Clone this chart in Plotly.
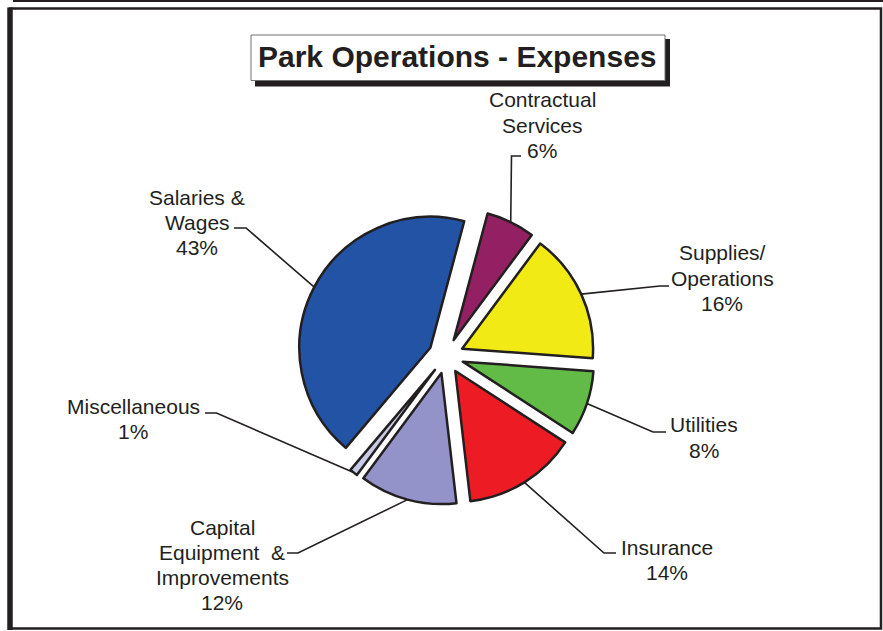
import math
import plotly.graph_objects as go

# ---- data ----
categories = ["Contractual Services", "Supplies/ Operations", "Utilities", "Insurance",
              "Capital Equipment & Improvements", "Miscellaneous", "Salaries & Wages"]
label_lines = [["Contractual", "Services"], ["Supplies/", "Operations"], ["Utilities"],
               ["Insurance"], ["Capital", "Equipment  &", "Improvements"],
               ["Miscellaneous"], ["Salaries &", "Wages"]]
shares = [6, 16, 8, 14, 12, 1, 43]
slice_colors = ["#922062", "#F2EA14", "#62BB47", "#ED1C24", "#9393C9", "#C8CBE6", "#2353A5"]

# ---- page geometry (pixels) ----
W, H = 883, 631
CX, CY = 446.0, 356.0      # pie centre
R = 131.0                  # slice radius
PULL = 0.135               # explode fraction
ROT = 15                   # first slice starts 15 deg clockwise from 12 o'clock
INK = "#231F20"

# text block anchor (centre of first line) and leader elbow / end per slice
text_pos = [(542, 100), (722, 253), (704, 425), (667, 547), (222, 527), (133, 406), (197, 198)]
elbows = [(511.5, 156), (660, 286), (653, 432), (604, 553), (298, 553), (216.5, 413), (246, 228)]
ends = [(521, 156), (669, 286), (666, 432), (616, 553), (287, 553), (205, 413), (234, 228)]
LINE_STEP = 25


def px(x):
    return x / W


def py(y):
    return 1 - y / H


half = R * (1 + PULL)
fig = go.Figure(go.Pie(
    labels=categories, values=shares, sort=False, direction="clockwise",
    rotation=ROT, pull=PULL, textinfo="none", hoverinfo="label+percent",
    marker=dict(colors=slice_colors, line=dict(color=INK, width=2.5)),
    domain=dict(x=[px(CX - half), px(CX + half)], y=[py(CY + half), py(CY - half)]),
    showlegend=False,
))

shapes = []
annotations = []

# frame
shapes.append(dict(type="line", xref="paper", yref="paper", x0=px(13), x1=px(883), y0=py(1), y1=py(1),
                   line=dict(color=INK, width=2)))
shapes.append(dict(type="rect", xref="paper", yref="paper", x0=px(10), x1=px(881), y0=py(8.5), y1=py(628.5),
                   line=dict(color=INK, width=2.5)))
shapes.append(dict(type="line", xref="paper", yref="paper", x0=px(10), x1=px(10), y0=py(7.5), y1=py(630),
                   line=dict(color=INK, width=5.5)))

# title box with drop shadow
shapes.append(dict(type="rect", xref="paper", yref="paper", x0=px(255), x1=px(670), y0=py(39), y1=py(86.5),
                   fillcolor=INK, line=dict(width=0)))
shapes.append(dict(type="rect", xref="paper", yref="paper", x0=px(251), x1=px(665), y0=py(35), y1=py(80.5),
                   fillcolor="white", line=dict(color="#707070", width=1)))
annotations.append(dict(text="<b>Park Operations - Expenses</b>", xref="paper", yref="paper",
                        x=px(458), y=py(57), showarrow=False, xanchor="center", yanchor="middle",
                        font=dict(family="Liberation Sans, Arial", size=30, color=INK)))

# slice labels with leader lines from each slice's outer arc midpoint
total = sum(shares)
cum = 0
for i, v in enumerate(shares):
    mid = math.radians(ROT + 360 * (cum + v / 2) / total)
    cum += v
    sx = CX + half * math.sin(mid)
    sy = CY - half * math.cos(mid)
    ex, ey = elbows[i]
    tx, ty = ends[i]
    shapes.append(dict(type="path", xref="paper", yref="paper",
                       path=f"M {px(sx)},{py(sy)} L {px(ex)},{py(ey)} L {px(tx)},{py(ty)}",
                       line=dict(color=INK, width=1.6)))
    lines = label_lines[i] + [f"{v}%"]
    lx, ly = text_pos[i]
    for k, t in enumerate(lines):
        annotations.append(dict(text=t, xref="paper", yref="paper", x=px(lx), y=py(ly + k * LINE_STEP),
                                showarrow=False, xanchor="center", yanchor="middle",
                                font=dict(family="Liberation Sans, Arial", size=21, color=INK)))

fig.update_layout(width=W, height=H, margin=dict(l=0, r=0, t=0, b=0),
                  paper_bgcolor="white", plot_bgcolor="white",
                  shapes=shapes, annotations=annotations)
fig.write_html("out.html")
